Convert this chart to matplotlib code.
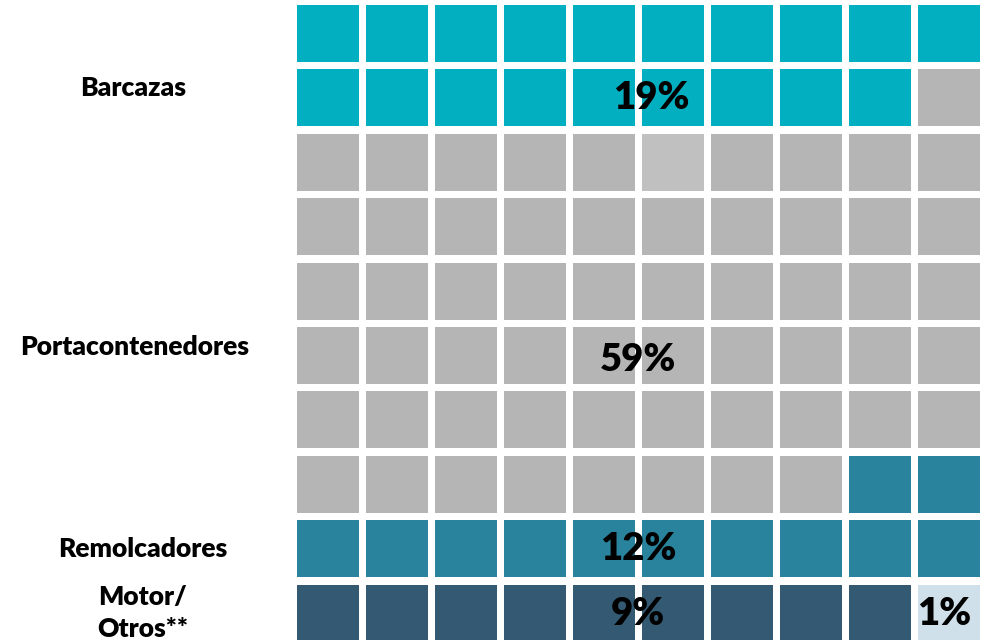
import matplotlib
matplotlib.use("Agg")
import matplotlib.pyplot as plt
from matplotlib.patches import Rectangle

# Data
categories = ["Barcazas", "Portacontenedores", "Remolcadores", "Motor/Otros**", "Otros"]
percentages = [19, 59, 12, 9, 1]
pct_labels = ["19%", "59%", "12%", "9%", "1%"]
colors = ["#02AFC1", "#B5B5B5", "#29839C", "#345A73", "#D0E0EA"]
highlight_cell = 25
highlight_color = "#C0C0C0"

# Layout (pixels)
W, H = 989, 640
x0, y0 = 297, 5
px, py = 69, 64.4
cw, ch = 62, 57
ncols = 10

fig = plt.figure(figsize=(W / 100, H / 100), dpi=100)
ax = fig.add_axes([0, 0, 1, 1])
ax.set_xlim(0, W)
ax.set_ylim(H, 0)
ax.axis("off")

idx = 0
for cat_i, n in enumerate(percentages):
    for k in range(n):
        r, c = divmod(idx, ncols)
        col = colors[cat_i]
        if idx == highlight_cell:
            col = highlight_color
        ax.add_patch(Rectangle((x0 + c * px, y0 + r * py), cw, ch,
                               facecolor=col, edgecolor="none"))
        idx += 1

font = ["Lato", "DejaVu Sans"]
wt = "heavy"

# category labels
cat_pos = [(133, 88), (135, 347), (143, 549)]
for (x, y), lab in zip(cat_pos, categories[:3]):
    ax.text(x, y, lab, ha="center", va="center", fontsize=19,
            fontweight=wt, family=font, color="black")
ax.text(143, 613, "Motor/\nOtros**", ha="center", va="center", fontsize=19,
        fontweight=wt, family=font, color="black", linespacing=1.38)

# percentage labels
pct_pos = [(651, 98), (638, 360), (638, 549), (638, 614), (944, 614)]
for (x, y), lab in zip(pct_pos, pct_labels):
    ax.text(x, y, lab, ha="center", va="center", fontsize=27.5,
            fontweight=wt, family=font, color="black")

fig.savefig("out.png", dpi=100)
